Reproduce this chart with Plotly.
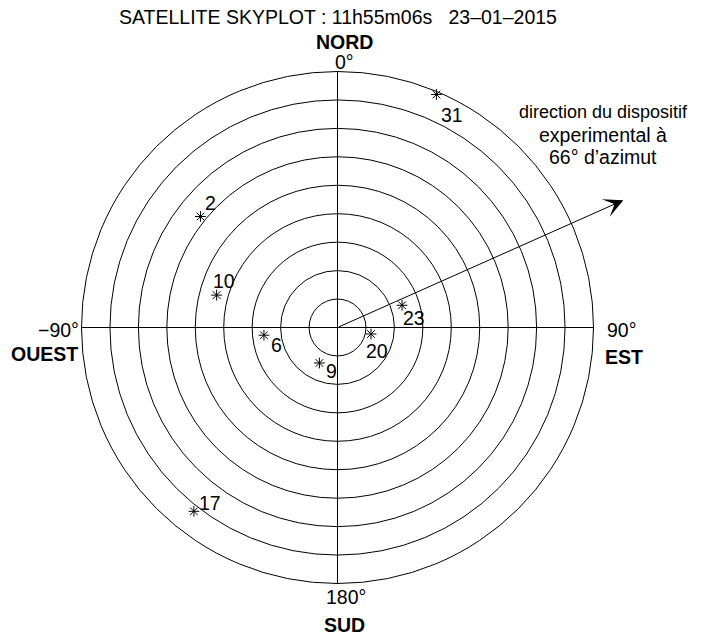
import numpy as np
import plotly.graph_objects as go

# Satellite observations: PRN, azimuth (deg, clockwise from north), elevation (deg)
prn = [31, 23, 2, 10, 6, 9, 20, 17]
azimuth = [23, 71, 309, 285, 264, 207, 101, 218]
elevation = [1, 66, 28, 46, 64, 76, 78, 8]
# pixel offsets of each PRN label from its marker
label_dx = [16, 12, 10, 7, 13, 12, 6, 16]
label_dy = [21, 13, -14, -14, 10, 8, 17, -8]

# Elevation rings (zenith distance, deg)
rings = [10, 20, 30, 40, 50, 60, 70, 80, 90]

# Experimental device direction
device_azimuth = 66
arrow_length = 110  # zenith-distance units, reaches past the horizon circle

title_text = "SATELLITE SKYPLOT : 11h55m06s   23\u201301\u20132015"
FONT = "Liberation Sans, Arial, sans-serif"
FS = 19.5

W, H = 716, 637
cx, cy, R = 337.5, 327.5, 256
k = 90 / R  # data units per pixel

zenith = [90 - e for e in elevation]

fig = go.Figure()

# satellites on the polar skyplot
fig.add_trace(go.Scatterpolar(
    r=zenith, theta=azimuth,
    mode="markers",
    marker=dict(symbol="asterisk-open", size=9, color="black",
                line=dict(color="black", width=1)),
    cliponaxis=False, showlegend=False,
))

# Cartesian overlay sharing the polar scale (x east, y north)
sx = np.array(zenith) * np.sin(np.radians(azimuth))
sy = np.array(zenith) * np.cos(np.radians(azimuth))

# small ticks on the cross axes at every ring
tx, ty = [], []
tick = 3 * k
for r in rings:
    for s in (1, -1):
        tx += [-tick, 0, None]
        ty += [s * r, s * r, None]
        tx += [s * r, s * r, None]
        ty += [0, -tick, None]
fig.add_trace(go.Scatter(x=tx, y=ty, mode="lines",
                         line=dict(color="black", width=1),
                         hoverinfo="skip", showlegend=False))

for p, x, y, dx, dy in zip(prn, sx, sy, label_dx, label_dy):
    fig.add_annotation(x=x, y=y, xref="x", yref="y", text=str(p),
                       showarrow=False, xshift=dx, yshift=-dy,
                       font=dict(family=FONT, size=FS, color="black"))

# device direction arrow
ax_tip = arrow_length * np.sin(np.radians(device_azimuth))
ay_tip = arrow_length * np.cos(np.radians(device_azimuth))
fig.add_annotation(x=ax_tip, y=ay_tip, ax=0, ay=0,
                   xref="x", yref="y", axref="x", ayref="y",
                   text="", showarrow=True, arrowhead=3, arrowsize=3.2,
                   arrowwidth=1, arrowcolor="black")

fig.update_layout(
    width=W, height=H,
    margin=dict(l=0, r=0, t=0, b=0),
    paper_bgcolor="white", plot_bgcolor="rgba(0,0,0,0)",
    font=dict(family=FONT, color="black"),
    xaxis=dict(domain=[0, 1], range=[-cx * k, (W - cx) * k],
               visible=False, fixedrange=True),
    yaxis=dict(domain=[0, 1], range=[-(H - cy) * k, cy * k],
               visible=False, fixedrange=True),
    polar=dict(
        domain=dict(x=[(cx - R) / W, (cx + R) / W],
                    y=[(H - cy - R) / H, (H - cy + R) / H]),
        bgcolor="white",
        angularaxis=dict(
            rotation=90, direction="clockwise",
            tickmode="array", tickvals=[0, 90, 180, 270],
            showticklabels=False, ticks="",
            showgrid=True, gridcolor="black", gridwidth=1,
            showline=True, linecolor="black", linewidth=1,
        ),
        radialaxis=dict(
            range=[0, 90], tickmode="array", tickvals=rings,
            showticklabels=False, ticks="",
            showgrid=True, gridcolor="black", gridwidth=1,
            showline=False,
        ),
    ),
)


def label(text, px, py, bold=False, xanchor="center", size=FS):
    fig.add_annotation(
        x=px / W, y=1 - py / H, xref="paper", yref="paper",
        text=f"<b>{text}</b>" if bold else text,
        showarrow=False, xanchor=xanchor, yanchor="middle",
        font=dict(family=FONT, size=size, color="black"),
    )


label(title_text, 338, 17)
label("NORD", 344, 42, bold=True)
label("0\u00b0", 344, 62)
label("180\u00b0", 346, 597)
label("SUD", 344, 625, bold=True)
label("\u221290\u00b0", 81, 330, xanchor="right")
label("OUEST", 80, 354, bold=True, xanchor="right")
label("90\u00b0", 605, 330, xanchor="left")
label("EST", 603, 357, bold=True, xanchor="left")
label("direction du dispositif", 603, 112, size=18)
label("experimental \u00e0", 603, 135)
label("66\u00b0 d\u2019azimut", 603, 157)

fig.write_html("out.html")
